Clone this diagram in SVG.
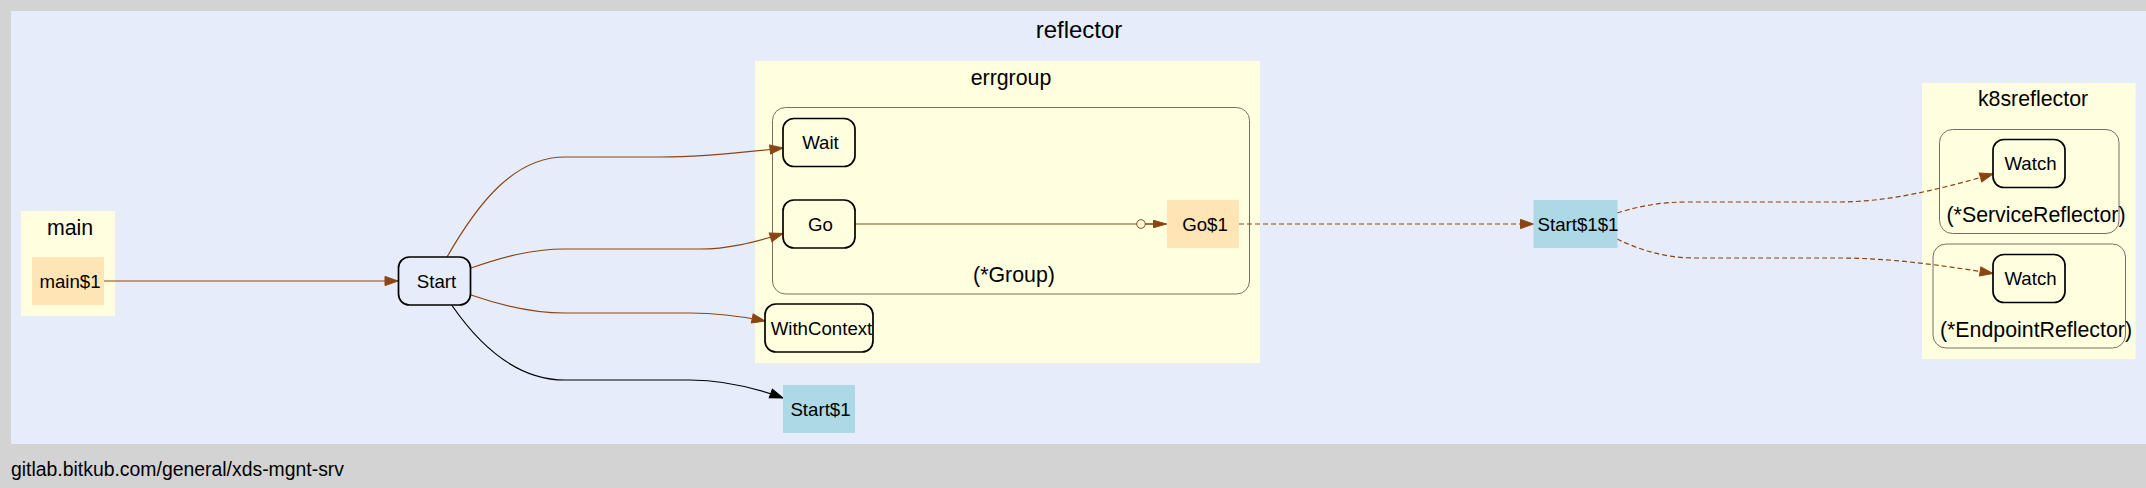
<svg xmlns="http://www.w3.org/2000/svg" width="2146" height="488" viewBox="0 0 2146 488">
<style>
text{font-family:"Liberation Sans",Arial,sans-serif;fill:#000}
.nl{font-size:18.67px;text-anchor:middle}
.cl{font-size:21.33px;text-anchor:middle}
.fn{fill:#ffffe0;stroke:#000;stroke-width:1.7}
.st{fill:#e6ecfa;stroke:#000;stroke-width:1.7}
.mc{fill:#ffe4b5;stroke:none}
.lb{fill:#add8e6;stroke:none}
.pkg{fill:#ffffe0;stroke:none}
.typ{fill:#ffffe0;stroke:#707068;stroke-width:1}
.e{fill:none;stroke:#8b4513;stroke-width:1.2}
.d{stroke-dasharray:5,3}
.k{stroke:#000}
</style>
<defs>
<marker id="ab" markerUnits="userSpaceOnUse" markerWidth="14" markerHeight="10" refX="13" refY="5" orient="auto" overflow="visible">
<path d="M0,0.4 L13,5 L0,9.6 Z" fill="#8b4513" stroke="#8b4513" stroke-width="1"/>
</marker>
<marker id="ak" markerUnits="userSpaceOnUse" markerWidth="14" markerHeight="10" refX="13" refY="5" orient="auto" overflow="visible">
<path d="M0,0.4 L13,5 L0,9.6 Z" fill="#000" stroke="#000" stroke-width="1"/>
</marker>
<marker id="ao" markerUnits="userSpaceOnUse" markerWidth="32" markerHeight="12" refX="30" refY="6" orient="auto" overflow="visible">
<line x1="9" y1="6" x2="17" y2="6" stroke="#8b4513" stroke-width="1.2"/>
<circle cx="4.5" cy="6" r="4.3" fill="#ffffe0" stroke="#8b4513" stroke-width="1"/>
<path d="M17,2.3 L30,6 L17,9.7 Z" fill="#8b4513" stroke="#8b4513" stroke-width="1"/>
</marker>
</defs>
<rect x="0" y="0" width="2146" height="488" fill="#d3d3d3"/>
<g id="cluster_reflector">
<rect x="11" y="11" width="2140" height="433" fill="#e6ecfa"/>
<text x="1079" y="38" style="font-size:24px;text-anchor:middle">reflector</text>
</g>
<g id="cluster_main">
<rect class="pkg" x="21" y="211" width="94" height="105"/>
<text class="cl" x="70" y="235">main</text>
</g>
<g id="cluster_errgroup">
<rect class="pkg" x="755" y="61" width="505" height="302"/>
<text class="cl" x="1011" y="85">errgroup</text>
</g>
<g id="cluster_group">
<rect class="typ" x="772.5" y="107.5" width="477" height="186.5" rx="13"/>
<text class="cl" x="1014" y="282">(*Group)</text>
</g>
<g id="cluster_k8sreflector">
<rect class="pkg" x="1922" y="83" width="213.5" height="276"/>
<text class="cl" x="2033" y="106">k8sreflector</text>
</g>
<g id="cluster_servicereflector">
<rect class="typ" x="1939.5" y="129.5" width="179.5" height="104" rx="13"/>
<text class="cl" x="2036" y="221.5">(*ServiceReflector)</text>
</g>
<g id="cluster_endpointreflector">
<rect class="typ" x="1933" y="244" width="192.5" height="104" rx="13"/>
<text class="cl" x="2036" y="336.5">(*EndpointReflector)</text>
</g>
<g id="edges">
<path class="e" marker-end="url(#ab)" d="M104,281 L398,281"/>
<path class="e" marker-end="url(#ab)" d="M447,257 C478,203 514,157 565,157 L660,157 C700,157 740,153 783,148"/>
<path class="e" marker-end="url(#ab)" d="M471,268 C500,258 530,249 565,249 L700,249 C727,249 752,243 783,233.5"/>
<path class="e" marker-end="url(#ab)" d="M471,295 C500,305 530,313 565,313 L690,313 C716,313 740,316 765,321"/>
<path class="e k" marker-end="url(#ak)" d="M452,305.5 C480,346 518,380 565,380 L690,380 C722,380 750,386 783,398"/>
<path class="e" marker-end="url(#ao)" d="M855,224 L1166.5,224"/>
<path class="e d" marker-end="url(#ab)" d="M1239,224 L1533.5,224"/>
<path class="e d" marker-end="url(#ab)" d="M1617,213 C1640,206 1660,202 1688,202 L1838,202 C1890,202 1940,189 1993,174"/>
<path class="e d" marker-end="url(#ab)" d="M1617,239 C1640,250 1665,258 1695,258 L1838,258 C1890,258 1940,265 1993,273.5"/>
</g>
<g id="node_main1">
<rect class="mc" x="32" y="257" width="72" height="48"/>
<text class="nl" x="70" y="287.5">main$1</text>
</g>
<g id="node_start">
<rect class="st" x="398.5" y="257" width="72" height="48" rx="11"/>
<text class="nl" x="436.5" y="287.5">Start</text>
</g>
<g id="node_wait">
<rect class="fn" x="783" y="118.5" width="72" height="48" rx="11"/>
<text class="nl" x="820.5" y="149">Wait</text>
</g>
<g id="node_go">
<rect class="fn" x="783" y="200" width="72" height="48" rx="11"/>
<text class="nl" x="820.5" y="230.5">Go</text>
</g>
<g id="node_go1">
<rect class="mc" x="1167" y="200" width="72" height="48"/>
<text class="nl" x="1205" y="230.5">Go$1</text>
</g>
<g id="node_withcontext">
<rect class="fn" x="765" y="304" width="108" height="48" rx="11"/>
<text class="nl" x="821.5" y="334.5">WithContext</text>
</g>
<g id="node_start1">
<rect class="lb" x="783" y="385" width="72" height="48"/>
<text class="nl" x="820.5" y="415.5">Start$1</text>
</g>
<g id="node_start11">
<rect class="lb" x="1533.5" y="200" width="84" height="48"/>
<text class="nl" x="1578" y="230.5">Start$1$1</text>
</g>
<g id="node_watch_service">
<rect class="fn" x="1993" y="139.5" width="72" height="48" rx="11"/>
<text class="nl" x="2030.5" y="170">Watch</text>
</g>
<g id="node_watch_endpoint">
<rect class="fn" x="1993" y="254.5" width="72" height="48" rx="11"/>
<text class="nl" x="2030.5" y="285">Watch</text>
</g>
<text x="11" y="476" style="font-size:19.4px">gitlab.bitkub.com/general/xds-mgnt-srv</text>
</svg>
